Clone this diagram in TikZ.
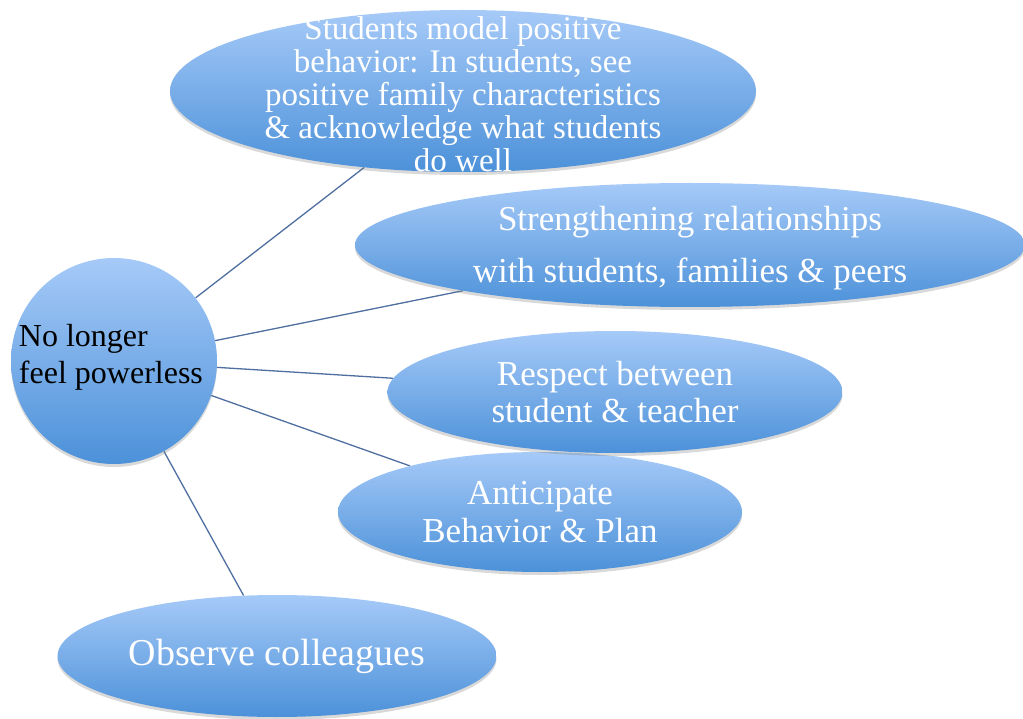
\documentclass[tikz,border=0pt]{standalone}
\usepackage{fontspec}
\setmainfont{Liberation Serif}
\usetikzlibrary{shapes.geometric, shadows, backgrounds}
\definecolor{bubbletop}{RGB}{166, 202, 248}
\definecolor{bubblebottom}{RGB}{76, 145, 217}
\definecolor{spokeblue}{RGB}{79, 111, 160}
\newcommand{\fsize}[2]{\fontsize{#1}{#2}\selectfont}

\begin{document}
\begin{tikzpicture}[
    x=1pt, y=-1pt,
    bubble/.style={ellipse, inner sep=0pt, top color=bubbletop, bottom color=bubblebottom,
                   drop shadow={shadow xshift=0pt, shadow yshift=-3pt, opacity=0.3}},
    bubbletext/.style={text=white, align=center, inner sep=0pt},
    spoke/.style={spokeblue, line width=1.3pt}
]
    \useasboundingbox (0,0) rectangle (1023,719);

    % Hub
    \node[bubble, circle, minimum size=206pt] (hub) at (114,361) {};
    \node[inner sep=0pt, align=left, anchor=west, font=\fsize{32}{37}]
        (hub-text) at ([xshift=8pt, yshift=4pt]hub.west) {No longer\\feel powerless};

    % Outer bubbles
    \node[bubble, minimum width=586pt, minimum height=162pt] (model) at (463,91) {};
    \node[bubble, minimum width=670pt, minimum height=124pt] (bonds) at (690,245) {};
    \node[bubble, minimum width=404pt, minimum height=120pt] (plan) at (540,512) {};
    \node[bubble, minimum width=455pt, minimum height=122pt] (respect) at (615,392) {};
    \node[bubble, minimum width=439pt, minimum height=122pt] (observe) at (277,656) {};

    % Texts
    \node[bubbletext, font=\fsize{33}{33}] (model-text) at ([yshift=-3pt]model.center)
        {Students model positive\\behavior: In students, see\\positive family characteristics\\
         \& acknowledge what students\\do well};
    \node[bubbletext, font=\fsize{35}{52}] (bonds-text) at ([yshift=-3pt]bonds.center)
        {Strengthening relationships\\with students, families \& peers};
    \node[bubbletext, font=\fsize{35}{37}] (respect-text) at (respect.center)
        {Respect between\\student \& teacher};
    \node[bubbletext, font=\fsize{35}{38}] (plan-text) at (plan.center)
        {Anticipate\\Behavior \& Plan};
    \node[bubbletext, font=\fsize{38}{38}] (observe-text) at (observe.center)
        {Observe colleagues};

    % Spokes
    \begin{scope}[on background layer]
        \draw[spoke] (hub) -- (model);
        \draw[spoke] (hub) -- (bonds);
        \draw[spoke] (hub) -- (respect);
        \draw[spoke] (hub) -- (plan);
        \draw[spoke] (hub) -- (observe);
    \end{scope}
\end{tikzpicture}
\end{document}
